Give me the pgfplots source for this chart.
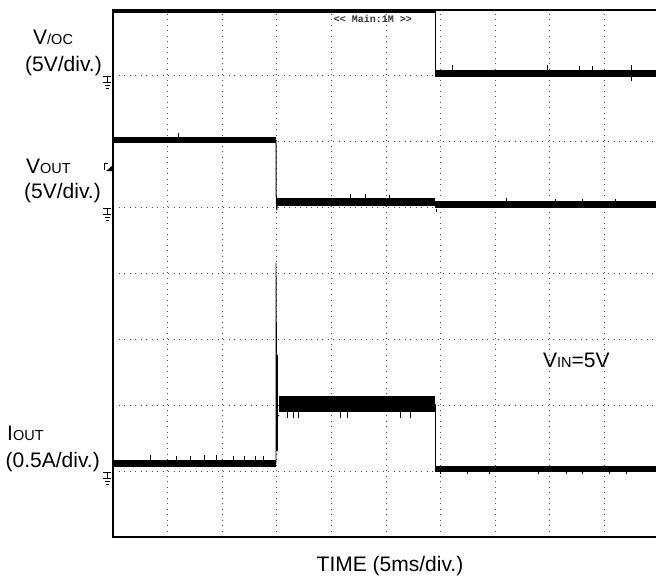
\documentclass[border=0pt]{standalone}
\usepackage{pgfplots}
\pgfplotsset{compat=1.18}
\usepackage{fontspec}
\setmainfont{Liberation Sans}
\newfontfamily\monofont{Liberation Mono}
\newcommand\bg[1]{{\fontsize{21}{24}\selectfont #1}}
\newcommand\sm[1]{{\fontsize{14.5}{16}\selectfont #1}}
\begin{document}
\begin{tikzpicture}[x=1pt,y=1pt]
\useasboundingbox (0,0) rectangle (656,583);
\begin{axis}[at={(113pt,46pt)}, anchor=south west, scale only axis,
  width=573.3pt, height=527pt, xmin=0, xmax=10.5, ymin=0, ymax=8,
  xtick={1,...,9}, ytick={1,...,7}, xticklabels={}, yticklabels={},
  major tick length=0pt, grid=major,
  grid style={black!70, line width=0.9pt, dash pattern=on 0.9pt off 4.6pt},
  axis line style={line width=1.2pt}, clip=false,
  unbounded coords=jump]
% V/OC
\addplot[black, line width=3.5pt, line cap=butt] coordinates {(0,7.985) (5.90,7.985)};
\addplot[black, line width=1pt] coordinates {(5.90,7.985) (5.90,7.036)};
\addplot[black, line width=7pt] coordinates {(5.90,7.036) (10.5,7.036)};
\addplot[black, line width=0.9pt] coordinates {(6.21,7.03) (6.21,7.17) (nan,nan) (7.95,7.03) (7.95,7.16) (nan,nan) (8.55,7.03) (8.55,7.15) (nan,nan) (8.79,7.03) (8.79,7.15) (nan,nan) (9.50,6.92) (9.50,7.16)};
% VOUT
\addplot[black, line width=6pt] coordinates {(0,6.027) (2.985,6.027)};
\addplot[black, line width=1pt] coordinates {(2.985,6.027) (2.99,5.15) (3.0,4.96) (3.01,5.085)};
\addplot[black, line width=8pt] coordinates {(3.01,5.085) (5.90,5.085)};
\addplot[black, line width=7pt] coordinates {(5.90,5.05) (10.5,5.05)};
\addplot[black, line width=0.9pt] coordinates {(1.2,6.0) (1.2,6.13) (nan,nan) (4.34,5.1) (4.34,5.2) (nan,nan) (4.62,5.1) (4.62,5.2) (nan,nan) (5.07,5.1) (5.07,5.19) (nan,nan) (5.93,4.98) (5.93,4.93) (nan,nan) (7.2,5.04) (7.2,5.14) (nan,nan) (8.1,5.04) (8.1,5.13) (nan,nan) (8.6,5.04) (8.6,5.13) (nan,nan) (9.2,5.04) (9.2,5.13)};
% IOUT
\addplot[black, line width=7pt] coordinates {(0,1.116) (2.985,1.116)};
\addplot[black, line width=0.9pt] coordinates {(2.985,1.116) (2.985,4.16) (3.0,1.82) (3.04,1.85)};
\addplot[black, line width=2.5pt] coordinates {(3.0,1.3) (3.0,2.76)};
\addplot[black, line width=16pt] coordinates {(3.04,2.019) (5.90,2.019)};
\addplot[black, line width=1pt] coordinates {(5.90,2.019) (5.90,1.032)};
\addplot[black, line width=6pt] coordinates {(5.90,1.032) (10.5,1.032)};
\addplot[black, line width=0.9pt] coordinates {(0.68,1.12) (0.68,1.24) (nan,nan) (1.17,1.12) (1.17,1.23) (nan,nan) (1.41,1.12) (1.41,1.23) (nan,nan) (1.68,1.12) (1.68,1.24) (nan,nan) (1.90,1.12) (1.90,1.24) (nan,nan) (2.2,1.12) (2.2,1.23) (nan,nan) (2.4,1.12) (2.4,1.23) (nan,nan) (2.6,1.12) (2.6,1.23) (nan,nan) (2.75,1.12) (2.75,1.23)
 (nan,nan) (3.2,2.0) (3.2,1.8) (nan,nan) (3.3,2.0) (3.3,1.8) (nan,nan) (3.4,2.0) (3.4,1.8) (nan,nan) (4.16,2.0) (4.16,1.8) (nan,nan) (4.3,2.0) (4.3,1.8) (nan,nan) (5.26,2.0) (5.26,1.8) (nan,nan) (5.44,2.0) (5.44,1.8)
 (nan,nan) (6.0,1.03) (6.0,0.95) (nan,nan) (6.5,1.03) (6.5,0.95) (nan,nan) (6.9,1.03) (6.9,0.95) (nan,nan) (7.8,1.03) (7.8,0.95) (nan,nan) (8.3,1.03) (8.3,0.95) (nan,nan) (8.6,1.03) (8.6,0.95) (nan,nan) (9.1,1.03) (9.1,0.95) (nan,nan) (9.4,1.03) (9.4,0.95)};
% ground symbols and trigger mark
\foreach \g in {7,5,1} {
  \edef\temp{\noexpand\draw[black, line width=0.8pt] (axis cs:0,\g) ++(-10pt,-1pt) -- ++(8pt,0pt) ++(-4pt,0pt) -- ++(0pt,-6pt) ++(-4pt,0pt) -- ++(8pt,0pt) ++(-6.5pt,-3pt) -- ++(5pt,0pt) ++(-4pt,-3pt) -- ++(3pt,0pt);}
  \temp
}
\draw[black, line width=0.9pt] (axis cs:0,5.6) ++(-9pt,5pt) -- ++(0pt,-7pt) (axis cs:0,5.6) ++(-9pt,5pt) -- ++(4pt,0pt);
\fill[black] (axis cs:0,5.6) ++(-7pt,-3pt) -- ++(7pt,0pt) -- ++(0pt,6pt) -- cycle;
\node[anchor=west, inner sep=0pt, text=black!80] at (axis cs:4.04,7.87) {\monofont\bfseries\fontsize{10}{10}\selectfont<{}< Main:1M >{}>};
\end{axis}
\node[anchor=west, inner sep=0pt] at (33,546) {\bg{V}\sm{/OC}};
\node[anchor=east, inner sep=0pt] at (102,517) {\bg{(5V/div.)}};
\node[anchor=west, inner sep=0pt] at (26,417) {\bg{V}\sm{OUT}};
\node[anchor=east, inner sep=0pt] at (101,390) {\bg{(5V/div.)}};
\node[anchor=west, inner sep=0pt] at (7,150) {\bg{I}\sm{OUT}};
\node[anchor=east, inner sep=0pt] at (100,121) {\bg{(0.5A/div.)}};
\node[anchor=west, inner sep=0pt] at (543,223) {\bg{V}\sm{IN}\bg{=5V}};
\node[inner sep=0pt] at (390,17) {\bg{TIME (5ms/div.)}};
\end{tikzpicture}
\end{document}
